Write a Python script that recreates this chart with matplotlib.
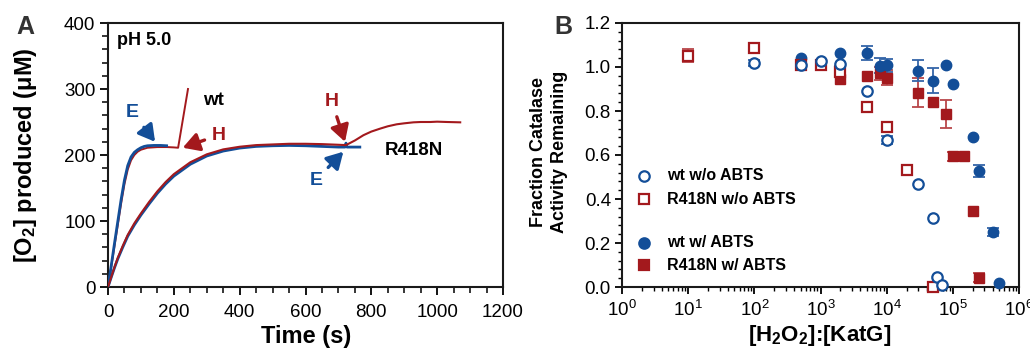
import numpy as np
import matplotlib
matplotlib.use('Agg')
import matplotlib.pyplot as plt
from matplotlib.ticker import MultipleLocator, AutoMinorLocator, LogLocator, NullFormatter

plt.rcParams['font.family'] = ['Liberation Sans', 'DejaVu Sans']
plt.rcParams['mathtext.fontset'] = 'custom'
plt.rcParams['mathtext.rm'] = 'Liberation Sans'
plt.rcParams['mathtext.bf'] = 'Liberation Sans:bold'
plt.rcParams['mathtext.it'] = 'Liberation Sans:italic'

BLUE = '#134E98'
RED = '#A3191D'
BLUE_ERR = '#3465A8'
RED_ERR = '#B9474A'

# ---------------- Panel A data (time courses) ----------------
wt_E_t = [0, 10, 20, 30, 40, 50, 60, 70, 80, 90, 100, 110, 120, 140, 160, 178]
wt_E_v = [0, 33, 67, 100, 133, 162, 184, 197, 204, 208, 211, 213, 214, 214.5, 214.5, 214]

wt_H_t = [0, 10, 20, 30, 40, 50, 60, 70, 80, 90, 100, 120, 150, 180, 200, 213, 243]
wt_H_v = [0, 31, 63, 95, 127, 156, 178, 192, 200, 205, 208, 211, 212, 212, 211.5, 211, 300]

r418n_E_t = [0, 10, 20, 30, 45, 60, 80, 100, 125, 150, 175, 200, 250, 300, 350, 400, 450,
             500, 550, 600, 650, 700, 720, 723, 726, 740, 765]
r418n_E_v = [0, 15, 29.5, 43, 60.5, 77, 94, 109, 126, 142, 156, 168, 186, 198.5, 206, 210.5, 213,
             214, 214.5, 214, 213, 212, 212, 218, 212, 212, 212]

r418n_H_t = [0, 10, 20, 30, 45, 60, 80, 100, 125, 150, 175, 200, 250, 300, 350, 400, 450,
             500, 550, 600, 650, 700, 723, 750, 776, 800, 827, 850, 877, 900, 928, 950,
             979, 1000, 1030, 1070]
r418n_H_v = [0, 15.5, 30.5, 44.5, 62.5, 79, 96.5, 111.5, 129, 145, 159, 171, 189, 201, 208.5, 212.5, 215,
             216, 217, 217, 216.5, 215.5, 215, 222, 230, 235.5, 240, 243.5, 246.5, 248, 249.5, 250,
             250, 250.5, 250, 249.5]

# ---------------- Panel B data (fraction remaining) ----------------
wt_noABTS_x = [100, 500, 1000, 2000, 5000, 10000, 30000, 50000, 58000, 68000]
wt_noABTS_y = [1.018, 1.01, 1.026, 1.015, 0.892, 0.668, 0.47, 0.312, 0.044, 0.010]
wt_noABTS_e = [0.015, 0, 0, 0, 0, 0.02, 0, 0, 0, 0]

r_noABTS_x = [10, 100, 500, 1000, 2000, 5000, 10000, 20000, 50000]
r_noABTS_y = [1.052, 1.086, 1.01, 1.007, 0.979, 0.817, 0.729, 0.532, 0.0]
r_noABTS_e = [0.03, 0, 0, 0, 0.025, 0, 0, 0, 0]

wt_ABTS_x = [500, 2000, 5000, 8000, 10000, 30000, 50000, 78000, 100000, 200000, 250000, 400000, 500000]
wt_ABTS_y = [1.04, 1.063, 1.064, 1.006, 1.008, 0.983, 0.938, 1.008, 0.923, 0.68, 0.527, 0.249, 0.017]
wt_ABTS_e = [0, 0, 0.03, 0.035, 0.03, 0.047, 0.057, 0, 0, 0, 0.027, 0.017, 0]

r_ABTS_x = [2000, 5000, 8000, 10000, 30000, 50000, 80000, 100000, 150000, 200000, 250000]
r_ABTS_y = [0.945, 0.958, 0.971, 0.951, 0.883, 0.839, 0.786, 0.595, 0.595, 0.347, 0.042]
r_ABTS_e = [0, 0, 0.03, 0.035, 0.065, 0, 0.063, 0.02, 0, 0, 0.02]

fig = plt.figure(figsize=(10.3, 3.49), dpi=100)
axA = fig.add_axes([108/1030, 62/349, 395/1030, 264/349])
axB = fig.add_axes([622/1030, 62/349, 397/1030, 264/349])

for ax in (axA, axB):
    for sp in ax.spines.values():
        sp.set_linewidth(1.5)
        sp.set_color('#1a1a1a')

# ---------------- Panel A ----------------
axA.plot(wt_H_t, wt_H_v, color=RED, lw=1.4, zorder=3)
axA.plot(wt_E_t, wt_E_v, color=BLUE, lw=2.0, zorder=4)
axA.plot(r418n_E_t, r418n_E_v, color=BLUE, lw=2.0, zorder=3)
axA.plot(r418n_H_t, r418n_H_v, color=RED, lw=1.5, zorder=4)

axA.set_xlim(0, 1200)
axA.set_ylim(0, 400)
axA.xaxis.set_major_locator(MultipleLocator(200))
axA.xaxis.set_minor_locator(MultipleLocator(50))
axA.yaxis.set_major_locator(MultipleLocator(100))
axA.yaxis.set_minor_locator(MultipleLocator(20))
axA.tick_params(which='major', length=6, width=1.3, labelsize=13.5, direction='out')
axA.tick_params(which='minor', length=4, width=1.1, direction='out')
axA.tick_params(axis='x', which='major', pad=6)
axA.tick_params(axis='y', which='major', pad=3)

axA.set_xlabel('Time (s)', fontsize=17, fontweight='bold', va='center')
axA.xaxis.set_label_coords(0.501, -0.189)
axA.set_ylabel(r'[O$_\mathbf{2}$] produced ($\mathbf{\mu}$M)', fontsize=17, fontweight='bold',
               ha='center', va='center')
axA.yaxis.set_label_coords(-0.210, 0.5)

axA.text(28, 374, 'pH 5.0', fontsize=13, fontweight='bold', ha='left', va='center')
axA.text(320, 283, 'wt', fontsize=13.5, fontweight='bold', ha='center', va='center')
axA.text(928, 207, 'R418N', fontsize=13.5, fontweight='bold', ha='center', va='center')

def arrow(ax, label, tip, txt, color):
    ax.annotate(label, xy=tip, xytext=txt, fontsize=14, fontweight='bold', color=color,
                ha='center', va='center',
                arrowprops=dict(arrowstyle='-|>,head_width=0.4,head_length=0.7',
                                color=color, lw=2.4, shrinkA=3, shrinkB=0))

arrow(axA, 'E', (143, 220), (75, 264), BLUE)
arrow(axA, 'H', (227, 211), (335, 230), RED)
arrow(axA, 'H', (720, 220), (680, 281), RED)
arrow(axA, 'E', (715, 205), (632, 162), BLUE)

fig.text(25/1030, 1 - 27/349, 'A', fontsize=18, fontweight='bold', color='#333333',
         ha='center', va='center')
fig.text(563/1030, 1 - 27/349, 'B', fontsize=18, fontweight='bold', color='#333333',
         ha='center', va='center')

# ---------------- Panel B ----------------
def errs(ax, x, y, e, color):
    x = np.asarray(x); y = np.asarray(y); e = np.asarray(e)
    m = e > 0
    ax.errorbar(x[m], y[m], yerr=e[m], fmt='none', ecolor=color, elinewidth=1.3,
                capsize=4.5, capthick=1.3, zorder=2, clip_on=False)

errs(axB, r_ABTS_x, r_ABTS_y, r_ABTS_e, RED_ERR)
errs(axB, wt_ABTS_x, wt_ABTS_y, wt_ABTS_e, BLUE_ERR)
errs(axB, r_noABTS_x, r_noABTS_y, r_noABTS_e, RED_ERR)
errs(axB, wt_noABTS_x, wt_noABTS_y, wt_noABTS_e, BLUE_ERR)

axB.plot(r_ABTS_x, r_ABTS_y, 's', ms=7, color=RED, mec=RED, zorder=3, clip_on=False)
axB.plot(wt_ABTS_x, wt_ABTS_y, 'o', ms=7.5, color=BLUE, mec=BLUE, zorder=3, clip_on=False)
axB.plot(r_noABTS_x, r_noABTS_y, 's', ms=7, mfc='white', mec=RED, mew=1.6, zorder=4, clip_on=False)
axB.plot(wt_noABTS_x, wt_noABTS_y, 'o', ms=7.5, mfc='white', mec=BLUE, mew=1.6, zorder=4, clip_on=False)

axB.set_xscale('log')
axB.set_xlim(1, 1e6)
axB.set_ylim(0, 1.2)
axB.xaxis.set_major_locator(LogLocator(base=10, numticks=10))
axB.xaxis.set_minor_locator(LogLocator(base=10, subs=np.arange(2, 10), numticks=20))
axB.xaxis.set_minor_formatter(NullFormatter())
axB.yaxis.set_major_locator(MultipleLocator(0.2))
axB.yaxis.set_minor_locator(AutoMinorLocator(5))
axB.yaxis.set_major_formatter(matplotlib.ticker.FormatStrFormatter('%.1f'))
axB.tick_params(which='major', length=5, width=1.3, labelsize=13.5, direction='out')
axB.tick_params(which='minor', length=3, width=1.0, direction='out')
axB.tick_params(axis='x', which='major', pad=4)
axB.tick_params(axis='y', which='major', pad=3)

axB.set_xlabel(r'[H$_\mathbf{2}$O$_\mathbf{2}$]:[KatG]', fontsize=16, fontweight='bold', va='center')
axB.xaxis.set_label_coords(0.499, -0.182)
axB.set_ylabel('Fraction Catalase\nActivity Remaining', fontsize=13, fontweight='bold',
               ha='center', va='center', linespacing=1.3)
axB.yaxis.set_label_coords(-0.184, 0.51)

# legend keys (drawn manually at the reference positions)
leg_rows = [
    (0.4216, 'o', 'white', BLUE, 'wt w/o ABTS'),
    (0.3333, 's', 'white', RED, 'R418N w/o ABTS'),
    (0.1667, 'o', BLUE, BLUE, 'wt w/ ABTS'),
    (0.0833, 's', RED, RED, 'R418N w/ ABTS'),
]
for yy, mk, fc, ec, lab in leg_rows:
    axB.plot([0.0565], [yy], mk, ms=7 if mk == 's' else 7.5, mfc=fc, mec=ec, mew=1.6,
             transform=axB.transAxes, clip_on=False, zorder=5)
    axB.text(0.1135, yy, lab, fontsize=11.5, fontweight='bold', ha='left', va='center',
             transform=axB.transAxes)

fig.savefig('out.png', dpi=100)
